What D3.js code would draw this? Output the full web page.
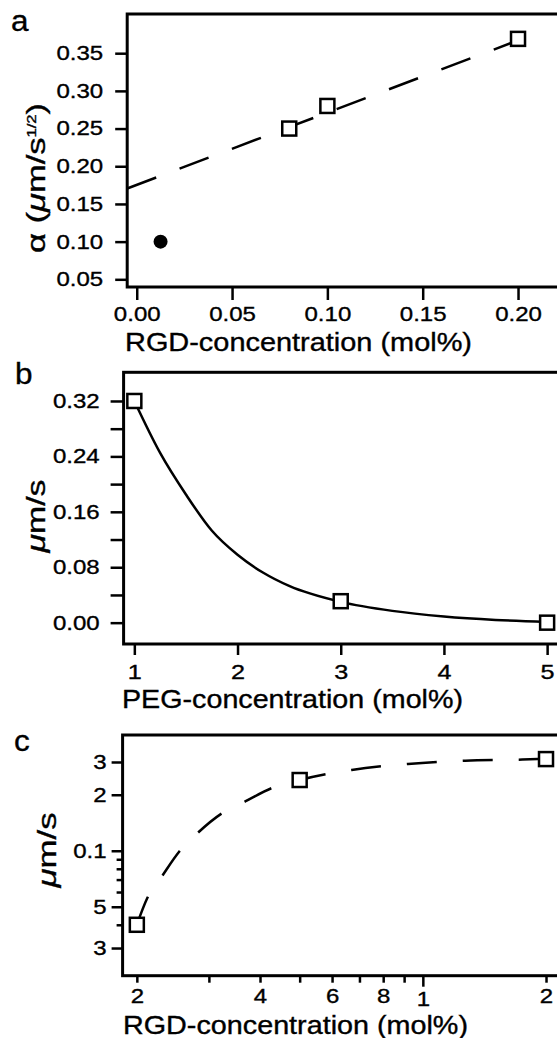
<!DOCTYPE html>
<html>
<head>
<meta charset="utf-8">
<script src="https://cdn.jsdelivr.net/npm/d3@7"></script>
<style>
  body { margin: 0; background: #fff; }
  text { font-family: "Liberation Sans", Arial, Helvetica, sans-serif; fill: #000; stroke: #000; stroke-width: 0.35px; }
</style>
</head>
<body>
<svg id="fig" width="557" height="1038"></svg>
<script>
// ---- panel a : alpha vs RGD concentration ----
var aRGD = [0.08, 0.10, 0.20];
var aAlpha = [0.25, 0.28, 0.369];
var aDotRGD = [0.0125];
var aDotAlpha = [0.10];
var aFitRGD = [-0.005, 0.20];
var aFitAlpha = [0.1705, 0.367];
var aXTicks = [0.00, 0.05, 0.10, 0.15, 0.20];
var aXLabels = ['0.00', '0.05', '0.10', '0.15', '0.20'];
var aYTicks = [0.05, 0.10, 0.15, 0.20, 0.25, 0.30, 0.35];
var aYLabels = ['0.05', '0.10', '0.15', '0.20', '0.25', '0.30', '0.35'];

// ---- panel b : speed vs PEG concentration ----
var bPEG = [1, 3, 5];
var bSpeed = [0.32, 0.031, 0.0];
var bCurvePEG = [1, 1.25, 1.5, 1.75, 2, 2.25, 2.5, 3, 3.5, 4, 4.5, 5];
var bCurveSpeed = [0.32, 0.245, 0.185, 0.133, 0.098, 0.072, 0.053, 0.030, 0.017, 0.009, 0.004, 0.001];
var bXTicks = [1, 2, 3, 4, 5];
var bXLabels = ['1', '2', '3', '4', '5'];
var bYTicks = [0.00, 0.08, 0.16, 0.24, 0.32];
var bYLabels = ['0.00', '0.08', '0.16', '0.24', '0.32'];
var bYMinor = [0.04, 0.12, 0.20, 0.28];

// ---- panel c : speed vs RGD concentration (log-log) ----
var cRGD = [0.02, 0.05, 0.20];
var cSpeed = [0.040, 0.240, 0.311];
var cCurveRGD = [0.020, 0.0212, 0.023, 0.0254, 0.0281, 0.0323, 0.0368, 0.0427, 0.050, 0.067, 0.092, 0.127, 0.175, 0.200];
var cCurveSpeed = [0.040, 0.0555, 0.0725, 0.099, 0.124, 0.159, 0.184, 0.217, 0.240, 0.272, 0.293, 0.305, 0.309, 0.312];
var cXTicks = [0.02, 0.04, 0.06, 0.08, 0.1, 0.2];
var cXLabels = ['2', '4', '6', '8', '1', '2'];
var cXMinor = [0.03, 0.05, 0.07, 0.09];
var cYTicks = [0.03, 0.05, 0.1, 0.2, 0.3];
var cYLabels = ['3', '5', '0.1', '2', '3'];
var cYMinor = [0.04, 0.06, 0.07, 0.08, 0.09];

var svg = d3.select('#fig');
var STRETCH = 1.2;

// widen a text selection horizontally like the scanned original
function stretch(sel, k) {
    sel.each(function() {
        var w = this.getComputedTextLength();
        d3.select(this).attr('textLength', w * k).attr('lengthAdjust', 'spacingAndGlyphs');
    });
}

function styleAxis(g, fontSize) {
    g.select('.domain').remove();
    g.selectAll('line').attr('stroke', '#000').attr('stroke-width', 2.5);
    g.selectAll('text').style('font-size', fontSize + 'px');
    stretch(g.selectAll('text'), STRETCH);
}

function frame(x0, y0, y1) {
    svg.append('rect')
        .attr('x', x0).attr('y', y0)
        .attr('width', 640 - x0).attr('height', y1 - y0)
        .attr('fill', 'none').attr('stroke', '#000').attr('stroke-width', 3);
}

function squares(x, y, xs, ys) {
    svg.append('g').selectAll('rect')
        .data(xs).enter().append('rect')
        .attr('x', function(d) { return x(d) - 7; })
        .attr('y', function(d, i) { return y(ys[i]) - 7; })
        .attr('width', 14).attr('height', 14)
        .attr('fill', '#fff').attr('stroke', '#000').attr('stroke-width', 2.5);
}

function panelLabel(txt, px, py) {
    var t = svg.append('text').attr('x', px).attr('y', py).text(txt).style('font-size', '30px');
    stretch(t, 1.05);
}

function axisTitle(txt, px, py, len) {
    svg.append('text').attr('x', px).attr('y', py).text(txt)
        .style('font-size', '25px')
        .attr('textLength', len).attr('lengthAdjust', 'spacingAndGlyphs');
}

// ================= panel a =================
var xa = d3.scaleLinear().domain([-0.005, 0.243]).range([127.2, 600]);
var ya = d3.scaleLinear().domain([0.0398, 0.402]).range([287, 14]);

frame(127.2, 14, 287);

var gaY = svg.append('g').attr('transform', 'translate(127.2,0)')
    .call(d3.axisLeft(ya).tickValues(aYTicks)
        .tickFormat(function(d, i) { return aYLabels[i]; })
        .tickSize(12).tickPadding(12));
styleAxis(gaY, 20);

var gaX = svg.append('g').attr('transform', 'translate(0,287)')
    .call(d3.axisBottom(xa).tickValues(aXTicks)
        .tickFormat(function(d, i) { return aXLabels[i]; })
        .tickSize(13).tickPadding(7));
styleAxis(gaX, 20);

svg.append('path')
    .attr('d', d3.line().x(function(d) { return xa(d); })
        .y(function(d, i) { return ya(aFitAlpha[i]); })(aFitRGD))
    .attr('fill', 'none').attr('stroke', '#000').attr('stroke-width', 2.5)
    .attr('stroke-dasharray', '31,25');

svg.append('g').selectAll('circle')
    .data(aDotRGD).enter().append('circle')
    .attr('cx', function(d) { return xa(d); })
    .attr('cy', function(d, i) { return ya(aDotAlpha[i]); })
    .attr('r', 7).attr('fill', '#000');

squares(xa, ya, aRGD, aAlpha);

panelLabel('a', 11, 31);
axisTitle('RGD-concentration (mol%)', 125, 351, 347);

var ta = svg.append('text')
    .attr('transform', 'translate(45,178) rotate(-90)')
    .attr('text-anchor', 'middle')
    .style('font-size', '25px');
ta.append('tspan').text('\u03b1 (');
ta.append('tspan').style('font-style', 'italic').text('\u03bc');
ta.append('tspan').text('m/s');
ta.append('tspan').attr('dy', -9).style('font-size', '12px').text('1/2');
ta.append('tspan').attr('dy', 9).text(')');
ta.attr('textLength', 150).attr('lengthAdjust', 'spacingAndGlyphs');

// ================= panel b =================
var xb = d3.scaleLinear().domain([0.896, 5.4]).range([123.6, 588.4]);
var yb = d3.scaleLinear().domain([-0.0308, 0.3614]).range([644, 372.3]);

frame(123.6, 372.3, 644);

var gbY = svg.append('g').attr('transform', 'translate(123.6,0)')
    .call(d3.axisLeft(yb).tickValues(bYTicks)
        .tickFormat(function(d, i) { return bYLabels[i]; })
        .tickSize(13).tickPadding(11));
styleAxis(gbY, 20);

var gbYm = svg.append('g').attr('transform', 'translate(123.6,0)')
    .call(d3.axisLeft(yb).tickValues(bYMinor).tickFormat('').tickSize(13));
styleAxis(gbYm, 20);

var gbX = svg.append('g').attr('transform', 'translate(0,644)')
    .call(d3.axisBottom(xb).tickValues(bXTicks)
        .tickFormat(function(d, i) { return bXLabels[i]; })
        .tickSize(11).tickPadding(9));
styleAxis(gbX, 21);

svg.append('path')
    .attr('d', d3.line().curve(d3.curveMonotoneX)
        .x(function(d) { return xb(d); })
        .y(function(d, i) { return yb(bCurveSpeed[i]); })(bCurvePEG))
    .attr('fill', 'none').attr('stroke', '#000').attr('stroke-width', 2.5);

squares(xb, yb, bPEG, bSpeed);

panelLabel('b', 15, 384);
axisTitle('PEG-concentration (mol%)', 122, 708, 341);

var tb = svg.append('text')
    .attr('transform', 'translate(45,516) rotate(-90)')
    .attr('text-anchor', 'middle')
    .style('font-size', '25px');
tb.append('tspan').style('font-style', 'italic').text('\u03bc');
tb.append('tspan').text('m/s');
tb.attr('textLength', 73).attr('lengthAdjust', 'spacingAndGlyphs');

// ================= panel c =================
var xc = d3.scaleLog().domain([0.01846, 0.271]).range([122.6, 600]);
var yc = d3.scaleLog().domain([0.0213, 0.419]).range([975.7, 735]);

frame(122.6, 735, 975.7);

var gcY = svg.append('g').attr('transform', 'translate(122.6,0)')
    .call(d3.axisLeft(yc).tickValues(cYTicks)
        .tickFormat(function(d, i) { return cYLabels[i]; })
        .tickSize(11).tickPadding(5));
styleAxis(gcY, 20);

var gcYm = svg.append('g').attr('transform', 'translate(122.6,0)')
    .call(d3.axisLeft(yc).tickValues(cYMinor).tickFormat('').tickSize(6));
styleAxis(gcYm, 20);

var gcX = svg.append('g').attr('transform', 'translate(0,975.7)')
    .call(d3.axisBottom(xc).tickValues(cXTicks)
        .tickFormat(function(d, i) { return cXLabels[i]; })
        .tickSize(7).tickPadding(6));
styleAxis(gcX, 20);
// the "1" sits a little lower and the decade tick is longer in the original
gcX.selectAll('.tick').filter(function(d) { return d === 0.1; })
    .select('line').attr('y2', 11);
gcX.selectAll('.tick').filter(function(d) { return d === 0.1; })
    .select('text').attr('y', 15).style('font-size', '21px');

var gcXm = svg.append('g').attr('transform', 'translate(0,975.7)')
    .call(d3.axisBottom(xc).tickValues(cXMinor).tickFormat('').tickSize(7));
styleAxis(gcXm, 20);

svg.append('path')
    .attr('d', d3.line().curve(d3.curveMonotoneX)
        .x(function(d) { return xc(d); })
        .y(function(d, i) { return yc(cCurveSpeed[i]); })(cCurveRGD))
    .attr('fill', 'none').attr('stroke', '#000').attr('stroke-width', 2.5)
    .attr('stroke-dasharray', '30,26');

squares(xc, yc, cRGD, cSpeed);

panelLabel('c', 14, 751);
axisTitle('RGD-concentration (mol%)', 123, 1034, 345);

var tc = svg.append('text')
    .attr('transform', 'translate(56,850) rotate(-90)')
    .attr('text-anchor', 'middle')
    .style('font-size', '25px');
tc.append('tspan').style('font-style', 'italic').text('\u03bc');
tc.append('tspan').text('m/s');
tc.attr('textLength', 75).attr('lengthAdjust', 'spacingAndGlyphs');
</script>
</body>
</html>
